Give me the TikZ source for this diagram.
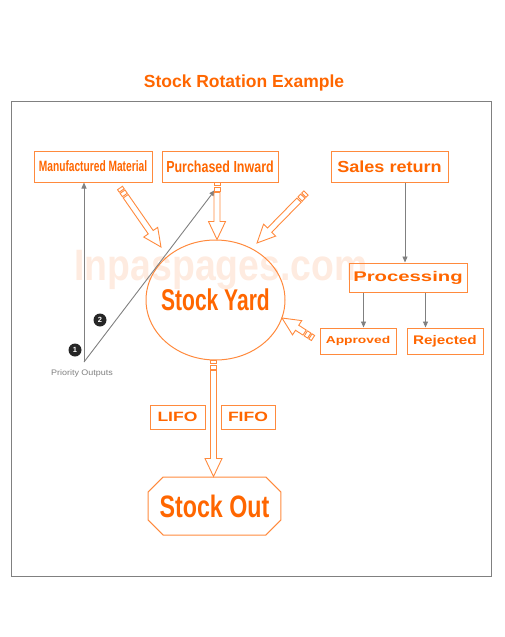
\documentclass[tikz,border=0pt]{standalone}
\usepackage{fontspec}
\setmainfont{Liberation Sans}
\usetikzlibrary{calc,shapes.geometric,shapes.misc,arrows.meta}

\definecolor{stockorange}{HTML}{FF6600}
\definecolor{boxline}{HTML}{FF8A3D}
\definecolor{linegray}{HTML}{808080}
\definecolor{markpeach}{HTML}{FEEBE0}

\tikzset{
  box/.style={draw=boxline, line width=1pt, text=stockorange, font=\bfseries, inner sep=0pt},
  grayarrow/.style={draw=linegray, line width=0.9pt, -{Triangle[width=5pt,length=6pt]}},
  pencil line/.style={draw=boxline, line width=0.9pt},
  num/.style={circle, fill=black!85, text=white, font=\bfseries\fontsize{7.5}{7.5}\selectfont, inner sep=0pt, minimum size=13pt},
}

% hollow block arrow with two small bands at its tail
\newcommand\pencil[2]{%
  \path let \p1=($(#2)-(#1)$) in \pgfextra{%
    \pgfmathsetmacro\pencillen{veclen(\x1,\y1)}%
    \pgfmathsetmacro\pencilang{atan2(\y1,\x1)}%
    \global\let\pencillen\pencillen \global\let\pencilang\pencilang};
  \begin{scope}[shift={(#1)}, rotate=\pencilang]
    \draw[pencil line] (0,-3) rectangle (3,3) (4.5,-3) rectangle (8.5,3);
    \draw[pencil line] (10,-3) -- (\pencillen-18,-3) -- (\pencillen-18,-8.5)
      -- (\pencillen,0) -- (\pencillen-18,8.5) -- (\pencillen-18,3) -- (10,3) -- cycle;
  \end{scope}}

\begin{document}
\begin{tikzpicture}[x=1pt, y=-1pt]
  \useasboundingbox (0,0) rectangle (505,637);

  % watermark
  \node[text=markpeach, font=\bfseries\fontsize{44}{44}\selectfont] (mark) at (221,270)
    {\scalebox{0.85}[1]{Inpaspages.com}};

  \node[text=stockorange, font=\bfseries\fontsize{17.5}{19}\selectfont] (title) at (244,83) {Stock Rotation Example};
  \draw[linegray, line width=1pt] (11,101) rectangle (491,576);

  % sources
  \node[box, minimum width=118pt, minimum height=31pt] (mm) at (93,166.5)
    {\fontsize{15}{15}\selectfont\scalebox{0.68}[1]{Manufactured Material}};
  \node[box, minimum width=116pt, minimum height=31pt] (pi) at (220,166.5)
    {\fontsize{16}{16}\selectfont\scalebox{0.78}[1]{Purchased Inward}};
  \node[box, minimum width=117pt, minimum height=31pt] (sr) at (389.5,166.5)
    {\fontsize{16}{16}\selectfont\scalebox{1.13}[1]{Sales return}};
  \node[box, minimum width=118pt, minimum height=29pt] (proc) at (408,277.5)
    {\fontsize{14}{14}\selectfont\scalebox{1.45}[1]{Processing}};
  \node[box, minimum width=76pt, minimum height=26pt] (appr) at (358,341)
    {\fontsize{10}{10}\selectfont\scalebox{1.38}[1]{Approved}};
  \node[box, minimum width=76pt, minimum height=26pt] (rej) at (445,341)
    {\fontsize{12.5}{12.5}\selectfont\scalebox{1.22}[1]{Rejected}};

  % yard and out
  \node[ellipse, draw=boxline, line width=1pt, text=stockorange, minimum width=139pt, minimum height=120pt, inner sep=0pt,
    font=\bfseries\fontsize{30}{30}\selectfont] (yard) at (215.5,300) {\makebox[0pt]{\scalebox{0.7}[1]{Stock Yard}}};
  \node[box, minimum width=55pt, minimum height=24pt] (lifo) at (177.5,417)
    {\fontsize{13.5}{13.5}\selectfont\scalebox{1.3}[1]{LIFO}};
  \node[box, minimum width=54pt, minimum height=24pt] (fifo) at (248,417)
    {\fontsize{13.5}{13.5}\selectfont\scalebox{1.3}[1]{FIFO}};
  \node[box, chamfered rectangle, chamfered rectangle xsep=16pt, minimum width=128pt, minimum height=58pt,
    font=\bfseries\fontsize{31}{31}\selectfont] (out) at (214.5,506) {\scalebox{0.75}[1]{Stock Out}};

  % priority outputs
  \coordinate (po) at (84,362);
  \coordinate (pe) at (215,190);
  \node[text=linegray, font=\fontsize{8}{8}\selectfont] (prio) at (82,373) {\scalebox{1.12}[1]{Priority Outputs}};
  \draw[grayarrow] (po) -- (po |- mm.south);
  \draw[grayarrow] (po) -- (pe);
  \node[num] (n1) at (75,350) {1};
  \node[num] (n2) at (100,320) {2};

  % returns
  \draw[grayarrow] ([xshift=-3pt]proc.north |- sr.south) -- ([xshift=-3pt]proc.north);
  \draw[grayarrow] ([xshift=15pt]proc.south west) -- ([xshift=15pt]proc.south west |- appr.north);
  \draw[grayarrow] ([xshift=-42pt]proc.south east) -- ([xshift=-42pt]proc.south east |- rej.north);

  % flows into and out of the yard
  \coordinate (mm-tail) at (120,188);
  \coordinate (mm-tip) at (161,247);
  \coordinate (pi-tail) at ([xshift=-3pt]pi.south);
  \coordinate (sr-tail) at (306,193);
  \coordinate (sr-tip) at (257,243);
  \coordinate (ap-tail) at (313,338);
  \coordinate (ap-tip) at (282,318);
  \coordinate (out-tail) at ([xshift=-2pt]yard.south);
  \pencil{mm-tail}{mm-tip}
  \pencil{pi-tail}{pi-tail |- yard.north}
  \pencil{sr-tail}{sr-tip}
  \pencil{ap-tail}{ap-tip}
  \pencil{out-tail}{out-tail |- out.north}
\end{tikzpicture}
\end{document}
